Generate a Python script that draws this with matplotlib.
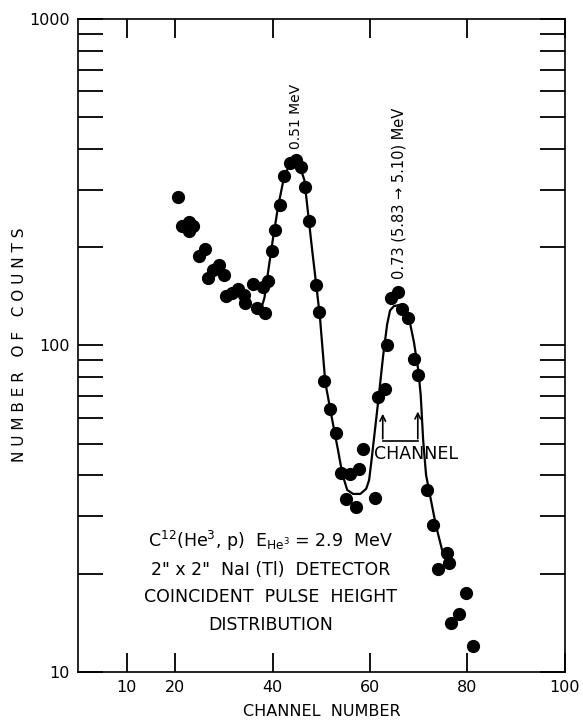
import matplotlib
matplotlib.use("Agg")
import matplotlib.pyplot as plt
from matplotlib.ticker import FixedLocator, NullFormatter

# measured pulse height spectrum (channel, counts)
channel = [20.6, 21.4, 22.7, 23.7, 22.7, 24.8, 26.0, 26.7, 27.7, 28.9, 29.9,
           30.5, 31.6, 32.9, 34.2, 34.4, 35.9, 36.8, 38.5, 38.1, 39.0, 39.8,
           40.5, 41.5, 42.4, 43.5, 44.8, 45.8, 46.7, 47.5, 48.9, 49.6, 50.6,
           51.7, 53.0, 54.0, 55.9, 57.8, 55.1, 57.1, 58.6, 61.0, 61.7, 63.1,
           63.4, 64.3, 65.7, 66.6, 67.7, 69.0, 69.9, 71.6, 73.0, 75.7, 76.3,
           73.9, 79.6, 78.3, 76.6, 81.2]
counts = [284, 232, 239, 232, 224, 188, 198, 161, 170, 176, 164,
          142, 145, 149, 143, 135, 154, 130, 126, 151, 157, 195,
          225, 269, 331, 361, 370, 351, 305, 241, 153, 127, 78,
          64, 54, 40.6, 40.4, 41.8, 33.9, 31.9, 48.3, 34.2, 69.4, 73.6,
          100, 140, 146, 129, 121, 91, 81, 36, 28.2, 23.1, 21.6,
          20.7, 17.4, 15.1, 14.1, 12.0]

# hand drawn fit curve
curve_x = [37.4, 38.3, 39.1, 40.1, 41.1, 42.2, 43.2, 44.0, 44.6, 45.6, 46.5,
           47.3, 48.1, 48.9, 49.7, 50.8, 52.1, 53.4, 54.3, 55.3, 56.5, 58.0,
           59.2, 59.8, 60.3, 61.0, 61.7, 62.7, 63.5, 64.1, 64.9, 66.0, 67.0,
           68.0, 69.0, 69.9, 70.4, 70.9, 71.5, 72.3, 73.5, 74.8, 75.8]
curve_y = [126, 140, 170, 215, 266, 321, 352, 364, 366, 353, 321,
           251, 196, 155, 122, 77, 60.5, 47.9, 40.4, 36.1, 35.1, 35.1,
           36.4, 38.7, 44.6, 55.1, 68.1, 93.5, 116, 128, 132, 133, 130,
           121, 102.5, 84, 70.5, 51.3, 40.1, 34.8, 28.2, 23.6, 22.0]

xticks = [10, 20, 40, 60, 80, 100]
yminor = [20, 30, 40, 50, 60, 70, 80, 90, 200, 300, 400, 500, 600, 700, 800, 900]

plt.rcParams['font.family'] = 'DejaVu Sans'

fig = plt.figure(figsize=(5.83, 7.2), dpi=100)
ax = fig.add_axes([0.1338, 0.0667, 0.835, 0.907])

ax.plot(curve_x, curve_y, color='black', lw=1.6)
ax.plot(channel, counts, 'o', color='black', ms=8.5, mec='black')

ax.set_yscale('log')
ax.set_xlim(0, 100)
ax.set_ylim(10, 1000)

ax.set_xticks(xticks)
ax.set_xticklabels([str(t) for t in xticks])
ax.yaxis.set_major_locator(FixedLocator([10, 100, 1000]))
ax.set_yticklabels(['10', '100', '1000'])
ax.yaxis.set_minor_locator(FixedLocator(yminor))
ax.yaxis.set_minor_formatter(NullFormatter())

ax.tick_params(axis='x', which='major', direction='in', length=14, width=1.3,
               top=True, labelsize=11.5, pad=6)
ax.tick_params(axis='y', which='major', direction='in', length=18, width=1.3,
               right=True, labelsize=11.5, pad=6)
ax.tick_params(axis='y', which='minor', direction='in', length=18, width=1.3,
               right=True)
for s in ax.spines.values():
    s.set_linewidth(1.2)

fig.text(322 / 583, 1 - 711 / 720, 'CHANNEL  NUMBER', ha='center', va='center',
         fontsize=11.5)
fig.text(20 / 583, 1 - 345 / 720, 'N U M B E R   O F   C O U N T S', rotation=90,
         ha='center', va='center', fontsize=11)

# peak labels
ax.text(44.8, 400, '0.51 MeV', rotation=90, ha='center', va='bottom', fontsize=10)
ax.text(65.9, 160, '0.73 (5.83 \u2192 5.10) MeV', rotation=90, ha='center',
        va='bottom', fontsize=10.5)

# channel bracket
ax.annotate('', xy=(62.6, 63), xytext=(62.6, 50.8),
            arrowprops=dict(arrowstyle='->', color='black', lw=1.2))
ax.annotate('', xy=(69.8, 64), xytext=(69.8, 50.8),
            arrowprops=dict(arrowstyle='->', color='black', lw=1.2))
ax.plot([62.6, 69.8], [50.8, 50.8], color='black', lw=1.2)
ax.text(60.8, 46.5, 'CHANNEL', ha='left', va='center', fontsize=12.5)

# description block
lines = ['C$^{12}$(He$^3$, p)  E$_{\\mathrm{He}^3}$ = 2.9  MeV',
         '2" x 2"  NaI (Tl)  DETECTOR',
         'COINCIDENT  PULSE  HEIGHT',
         'DISTRIBUTION']
ypos = [25.2, 20.5, 16.97, 13.9]
for t, yv in zip(lines, ypos):
    ax.text(39.5, yv, t, ha='center', va='center', fontsize=12.5)

fig.savefig('out.png', dpi=100)
